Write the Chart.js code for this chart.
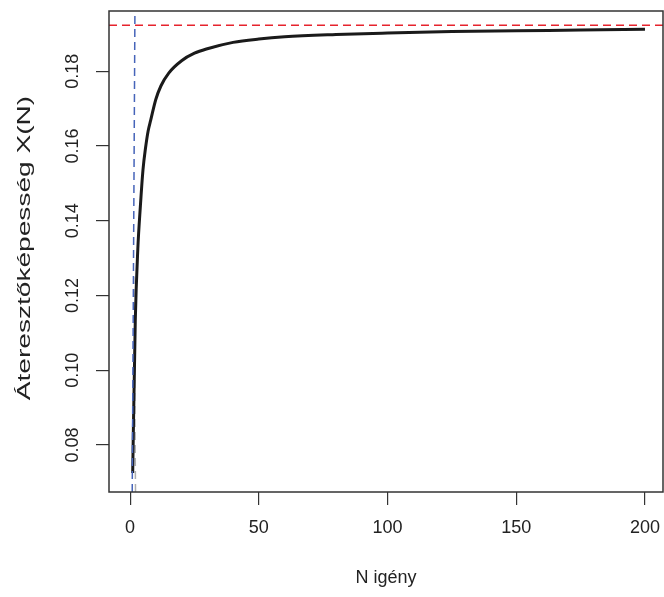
<!DOCTYPE html>
<html>
<head>
<meta charset="utf-8">
<script src="https://cdn.jsdelivr.net/npm/chart.js@4"></script>
<style>
  html, body { margin: 0; padding: 0; background: #fff; }
  #wrap { width: 664px; height: 597px; position: relative; }
</style>
</head>
<body>
<div id="wrap"><canvas id="chart"></canvas></div>
<script>
// Áteresztőképesség görbe (N igény -> X(N))
const nValues = [1, 2, 3, 4, 5, 6, 7, 8, 10, 12, 15, 20, 25, 30, 40, 50, 60, 80, 100, 125, 150, 175, 200];
const throughput = [0.0725, 0.113, 0.1325, 0.144, 0.1536, 0.1595, 0.164, 0.1669, 0.1725, 0.1761, 0.1795, 0.1828,
                    0.1848, 0.186, 0.1877, 0.1886, 0.1892, 0.1898, 0.1902, 0.1906, 0.1908, 0.191, 0.1912];

// Aszimptoták, segédvonalak
const maxThroughput = 0.1923;
const saturationN = [0.82, 1.87];
const saturationX = [0.0674, 0.1961];
const lowerN = [2.1, 1.45];
const lowerX = [0.0674, 0.125];

// Tengelyek
const xTicks = [0, 50, 100, 150, 200];
const yTicks = [0.08, 0.10, 0.12, 0.14, 0.16, 0.18];
const xRange = [-8.2, 207];
const yRange = [0.0674, 0.1961];
const xTitle = 'N igény';
const yTitle = 'Áteresztőképesség X(N)';

const pts = (xs, ys) => xs.map((x, i) => ({ x: x, y: ys[i] }));

const font = { family: 'Liberation Sans, Arial, sans-serif', size: 18 };

// Keret a rajzterület körül + nyújtott y tengelycím
const boxPlugin = {
    id: 'box',
    afterDatasetsDraw(chart) {
        const a = chart.chartArea;
        const c = chart.ctx;
        c.save();
        c.strokeStyle = '#333';
        c.lineWidth = 1.5;
        c.strokeRect(a.left, a.top, a.right - a.left, a.bottom - a.top);
        c.restore();

        c.save();
        c.translate(25, 248);
        c.rotate(-Math.PI / 2);
        c.scale(1.56, 1);
        c.font = font.size + 'px ' + font.family;
        c.fillStyle = '#222';
        c.textAlign = 'center';
        c.textBaseline = 'middle';
        c.fillText(yTitle, 0, 0);
        c.restore();
    }
};

const ctx = document.getElementById('chart').getContext('2d');
new Chart(ctx, {
    type: 'line',
    data: {
        datasets: [
            {
                data: pts(saturationN, saturationX),
                borderColor: 'rgb(70, 100, 185)',
                borderWidth: 1.5,
                borderDash: [8, 5],
                pointRadius: 0
            },
            {
                data: pts(xRange, [maxThroughput, maxThroughput]),
                borderColor: 'rgb(230, 35, 45)',
                borderWidth: 1.5,
                borderDash: [8, 5],
                pointRadius: 0
            },
            {
                data: pts(nValues, throughput),
                borderColor: '#1a1a1a',
                borderWidth: 3,
                cubicInterpolationMode: 'monotone',
                pointRadius: 0
            },
            {
                data: pts(lowerN, lowerX),
                borderColor: 'rgb(175, 175, 175)',
                borderWidth: 1.5,
                borderDash: [8, 5],
                pointRadius: 0
            }
        ]
    },
    options: {
        responsive: true,
        maintainAspectRatio: false,
        animation: false,
        layout: { padding: { top: 11, right: 1, left: 0, bottom: 0 } },
        plugins: {
            legend: { display: false },
            tooltip: { enabled: false }
        },
        scales: {
            x: {
                type: 'linear',
                min: xRange[0],
                max: xRange[1],
                afterBuildTicks: s => { s.ticks = xTicks.map(v => ({ value: v })); },
                afterFit: s => { s.height = 105; s.paddingLeft = 0; s.paddingRight = 0; },
                border: { display: false },
                grid: { drawOnChartArea: false, drawTicks: true, tickLength: 13, color: '#333', lineWidth: 1.2 },
                ticks: { font: font, color: '#222', padding: 12, maxRotation: 0, callback: v => String(v) },
                title: { display: true, text: xTitle, font: font, color: '#222', padding: { top: 0, bottom: 8 } }
            },
            y: {
                type: 'linear',
                min: yRange[0],
                max: yRange[1],
                afterBuildTicks: s => { s.ticks = yTicks.map(v => ({ value: v })); },
                afterFit: s => { s.width = 109; s.paddingTop = 0; s.paddingBottom = 0; },
                border: { display: false },
                grid: { drawOnChartArea: false, drawTicks: true, tickLength: 13, color: '#333', lineWidth: 1.2 },
                ticks: {
                    font: font, color: '#222', padding: 5.5,
                    minRotation: 90, maxRotation: 90, crossAlign: 'center',
                    callback: v => v.toFixed(2)
                },
                title: { display: false }
            }
        }
    },
    plugins: [boxPlugin]
});
</script>
</body>
</html>
